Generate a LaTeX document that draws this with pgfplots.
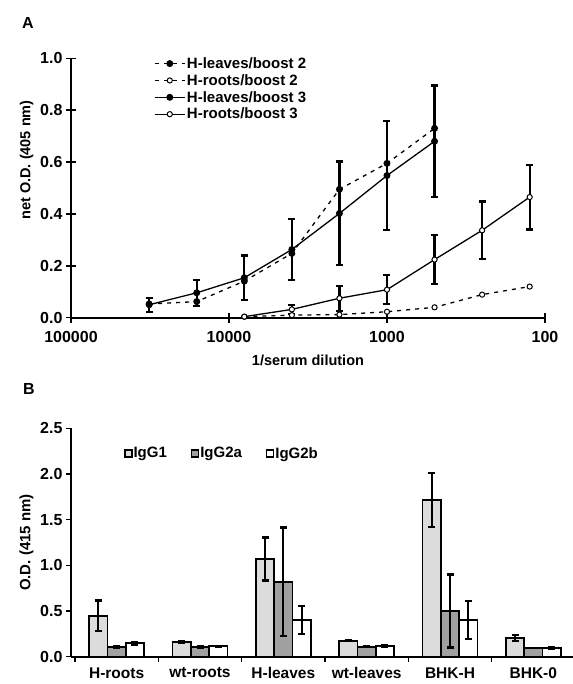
\documentclass[border=0pt]{standalone}
\usepackage{fontspec}
\setmainfont{Liberation Sans}
\usepackage{pgfplots}
\pgfplotsset{compat=1.18}
\definecolor{lightfill}{HTML}{DCDCDC}
\definecolor{darkfill}{HTML}{A0A0A0}

\newcommand{\tickfont}{\fontsize{16bp}{18bp}\selectfont\bfseries}
\newcommand{\labfont}{\fontsize{14.5bp}{17bp}\selectfont\bfseries}

\begin{document}
\begin{tikzpicture}
\useasboundingbox (0,0) rectangle (573bp,-684bp);
\node[anchor=north west,inner sep=0pt,font=\fontsize{16bp}{18bp}\selectfont\bfseries] at (22bp,-17bp) {A};
\node[anchor=north west,inner sep=0pt,font=\fontsize{16bp}{18bp}\selectfont\bfseries] at (23bp,-383bp) {B};

% panel A: titration curves
\begin{axis}[
  at={(71bp,-317.7bp)},anchor=south west,scale only axis,
  width=474bp,height=259.4bp,
  xmode=log,x dir=reverse,xmin=100,xmax=100000,
  ymin=0,ymax=1,
  axis x line*=bottom,axis y line*=left,
  axis line style={line width=1.8bp,-},
  xtick={100,1000,10000,100000},xticklabels={100,1000,10000,100000},
  xminorticks=false,
  ytick={0,0.2,0.4,0.6,0.8,1},yticklabels={0.0,0.2,0.4,0.6,0.8,1.0},
  tick align=center,major tick length=10bp,
  every tick/.style={line width=1.5bp,black},
  tick label style={font=\tickfont},
  xticklabel style={yshift=-5bp},
  xlabel={1/serum dilution},ylabel={net O.D. (405 nm)},
  label style={font=\labfont},
  xlabel style={yshift=-6bp},
  ylabel style={at={(ticklabel cs:0.608)}},
  clip=false,
  legend style={at={(0.175,1.01)},anchor=north west,draw=none,fill=none,
    font=\fontsize{15bp}{17bp}\selectfont\bfseries,inner sep=0pt,
    nodes={inner sep=1.5bp},row sep=1.5bp},
  legend cell align=left,
  legend image code/.code={\draw[mark repeat=2,mark phase=2,#1]
    plot coordinates {(0bp,0bp) (15bp,0bp) (30bp,0bp)};},
]
\addplot[black,line width=1.3bp,dash pattern=on 4bp off 5bp,mark=*,mark size=2.8bp,mark options={solid}]
coordinates {
  (32000,0.053) (16000,0.062) (8000,0.141) (4000,0.248)
  (2000,0.495) (1000,0.595) (500,0.730)
};
\addlegendentry{H-leaves/boost 2}
\addplot[black,line width=1.3bp,dash pattern=on 4bp off 5bp,mark=*,mark size=2.6bp,
  mark options={solid,fill=white,line width=1bp}]
coordinates {
  (8000,0.004) (4000,0.010) (2000,0.012) (1000,0.023)
  (500,0.040) (250,0.089) (125,0.120)
};
\addlegendentry{H-roots/boost 2}
\addplot[black,line width=1.3bp,mark=*,mark size=2.8bp,
  error bars/.cd,y dir=both,y explicit,
  error bar style={line width=2.2bp},
  error mark options={rotate=90,mark size=3.5bp,line width=2.2bp}]
coordinates {
  (32000,0.050) +- (0,0.027)
  (16000,0.096) +- (0,0.050)
  (8000,0.154) +- (0,0.086)
  (4000,0.263) +- (0,0.118)
  (2000,0.402) +- (0,0.200)
  (1000,0.548) +- (0,0.209)
  (500,0.680) +- (0,0.215)
};
\addlegendentry{H-leaves/boost 3}
\addplot[black,line width=1.3bp,mark=*,mark size=2.6bp,
  mark options={fill=white,line width=1bp},
  error bars/.cd,y dir=both,y explicit,
  error bar style={line width=2.2bp},
  error mark options={rotate=90,mark size=3.5bp,line width=2.2bp}]
coordinates {
  (8000,0.004) +- (0,0)
  (4000,0.032) +- (0,0.018)
  (2000,0.075) +- (0,0.048)
  (1000,0.108) +- (0,0.056)
  (500,0.224) +- (0,0.095)
  (250,0.337) +- (0,0.111)
  (125,0.465) +- (0,0.125)
};
\addlegendentry{H-roots/boost 3}
\end{axis}

% panel B: isotype bars
\begin{axis}[
  at={(71bp,-656.7bp)},anchor=south west,scale only axis,
  width=504bp,height=228.4bp,
  xmin=-0.548,xmax=5.5,ymin=0,ymax=2.5,
  ybar=0pt,bar width=18.3bp,
  axis x line*=bottom,axis y line*=left,
  axis line style={line width=1.8bp,-},
  xtick={0,1,2,3,4,5},
  xticklabels={H-roots,wt-roots,H-leaves,wt-leaves,BHK-H,BHK-0},
  major x tick style={draw=none},
  minor xtick={-0.5,0.5,1.5,2.5,3.5,4.5,5.5},
  ytick={0,0.5,1,1.5,2,2.5},yticklabels={0.0,0.5,1.0,1.5,2.0,2.5},
  tick align=outside,major tick length=5bp,minor tick length=5bp,
  every tick/.style={line width=1.5bp,black},
  tick label style={font=\tickfont},
  xticklabel style={font=\fontsize{15.5bp}{17bp}\selectfont\bfseries,yshift=-2.5bp},
  ylabel={O.D. (415 nm)},
  label style={font=\fontsize{15bp}{17bp}\selectfont\bfseries},
  clip=false,
  legend columns=3,
  legend style={at={(0.105,0.89)},anchor=west,draw=none,fill=none,
    font=\fontsize{15bp}{17bp}\selectfont\bfseries,inner sep=0pt,
    nodes={inner sep=1bp},
    /tikz/every even column/.append style={column sep=23bp}},
  legend image code/.code={\draw[#1,line width=1.4bp] (0bp,-3.5bp) rectangle (7bp,3.5bp);},
  error bars/error bar style={line width=2.2bp},
  error bars/error mark options={rotate=90,mark size=3.5bp,line width=2.2bp},
]
\addplot[draw=black,line width=1.8bp,fill=lightfill,
  error bars/.cd,y dir=both,y explicit]
coordinates {
  (0,0.449) +- (0,0.166)
  (1,0.164) +- (0,0.008)
  (2,1.069) +- (0,0.235)
  (3,0.175) +- (0,0.004)
  (4,1.718) +- (0,0.297)
  (5,0.204) +- (0,0.035)
};
\addlegendentry{IgG1}
\addplot[draw=black,line width=1.8bp,fill=darkfill,
  error bars/.cd,y dir=both,y explicit]
coordinates {
  (0,0.106) +- (0,0.010)
  (1,0.109) +- (0,0.010)
  (2,0.820) +- (0,0.595)
  (3,0.109) +- (0,0.006)
  (4,0.500) +- (0,0.400)
  (5,0.095) +- (0,0.000)
};
\addlegendentry{IgG2a}
\addplot[draw=black,line width=1.8bp,fill=white,
  error bars/.cd,y dir=both,y explicit]
coordinates {
  (0,0.146) +- (0,0.018)
  (1,0.113) +- (0,0.008)
  (2,0.401) +- (0,0.155)
  (3,0.120) +- (0,0.008)
  (4,0.401) +- (0,0.206)
  (5,0.098) +- (0,0.008)
};
\addlegendentry{IgG2b}
\end{axis}
\end{tikzpicture}
\end{document}
